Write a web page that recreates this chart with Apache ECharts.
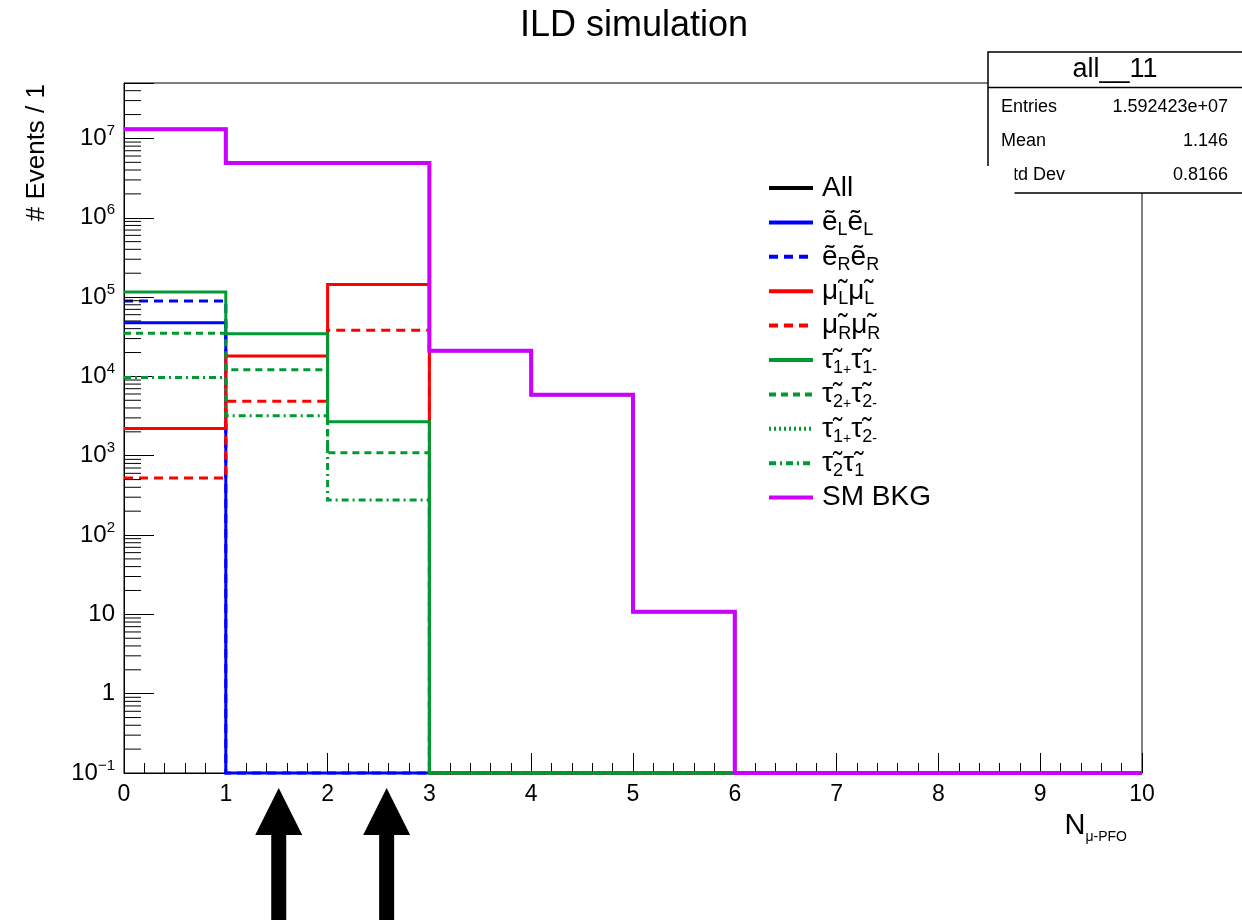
<!DOCTYPE html>
<html>
<head>
<meta charset="utf-8">
<title>ILD simulation</title>
<script src="https://cdn.jsdelivr.net/npm/echarts@6/dist/echarts.min.js"></script>
<style>
html, body { margin: 0; padding: 0; background: #fff; }
#chart { width: 1242px; height: 920px; }
</style>
</head>
<body>
<div id="chart"></div>
<script>
const FONT = 'Liberation Sans, Arial, Helvetica, sans-serif';

// one bin per integer of N_mu-PFO
const binEdges = [0, 1, 2, 3, 4, 5, 6, 7, 8, 9, 10];

// events per bin (0 = empty bin)
const allEvents = [1.31e7, 4.89e6, 4.89e6, 2.11e4, 5.87e3, 10.8, 0, 0, 0, 0];
const eLeL      = [4.76e4, 0, 0, 0, 0, 0, 0, 0, 0, 0];
const eReR      = [8.95e4, 0, 0, 0, 0, 0, 0, 0, 0, 0];
const muLmuL    = [2.2e3, 1.81e4, 1.44e5, 0, 0, 0, 0, 0, 0, 0];
const muRmuR    = [525, 4.87e3, 3.83e4, 0, 0, 0, 0, 0, 0, 0];
const tau1tau1  = [1.16e5, 3.44e4, 2.69e3, 0, 0, 0, 0, 0, 0, 0];
const tau2tau2  = [3.51e4, 1.21e4, 1.09e3, 0, 0, 0, 0, 0, 0, 0];
const tau1tau2  = [0, 0, 0, 0, 0, 0, 0, 0, 0, 0];
const tau2tau1  = [9.67e3, 3.18e3, 277, 0, 0, 0, 0, 0, 0, 0];
const smBkg     = [1.31e7, 4.89e6, 4.89e6, 2.11e4, 5.87e3, 10.8, 0, 0, 0, 0];

const yMin = 0.1;
const yMax = 5e7;

// cut positions marked by the arrows under the axis
const arrowX = [1.52, 2.58];

const statsTitle = 'all__11';
const statsLabels = ['Entries', 'Mean', 'Std Dev'];
const statsValues = ['1.592423e+07', '1.146', '0.8166'];

const histos = [
    { name: 'All', data: allEvents, color: '#000000', dash: 'solid', width: 3, label: 'All' },
    { name: 'eLeL', data: eLeL, color: '#0000ff', dash: 'solid', width: 3, label: 'ẽ{s|L}ẽ{s|L}' },
    { name: 'eReR', data: eReR, color: '#0000ff', dash: [9, 6], width: 3, label: 'ẽ{s|R}ẽ{s|R}' },
    { name: 'muLmuL', data: muLmuL, color: '#ff0000', dash: 'solid', width: 3, label: 'μ̃{s|L}μ̃{s|L}' },
    { name: 'muRmuR', data: muRmuR, color: '#ff0000', dash: [9, 6], width: 3, label: 'μ̃{s|R}μ̃{s|R}' },
    { name: 'tau1tau1', data: tau1tau1, color: '#009933', dash: 'solid', width: 3, label: 'τ̃{s|1}{ss|+}τ̃{s|1}{ss|-}' },
    { name: 'tau2tau2', data: tau2tau2, color: '#009933', dash: [7, 5], width: 3, label: 'τ̃{s|2}{ss|+}τ̃{s|2}{ss|-}' },
    { name: 'tau1tau2', data: tau1tau2, color: '#009933', dash: [2, 3], width: 3, label: 'τ̃{s|1}{ss|+}τ̃{s|2}{ss|-}' },
    { name: 'tau2tau1', data: tau2tau1, color: '#009933', dash: [7, 4, 2, 4], width: 3, label: 'τ̃{s|2}τ̃{s|1}' },
    { name: 'SM BKG', data: smBkg, color: '#cc00ff', dash: 'solid', width: 4, label: 'SM BKG' }
];

// step outline of a histogram, empty bins sit on the axis minimum
function histLine(vals) {
    if (vals.every(v => v === 0)) return [];
    const n = vals.length;
    const pts = [];
    vals.forEach((v, i) => pts.push([binEdges[i], v > 0 ? v : yMin]));
    pts.push([binEdges[n], vals[n - 1] > 0 ? vals[n - 1] : yMin]);
    pts.push([binEdges[n], yMin]);
    return pts;
}

// log minor ticks 2..9 x 10^n
const minorTicks = [];
for (let e = -1; e <= 7; e++) {
    for (let k = 2; k <= 9; k++) {
        const v = k * Math.pow(10, e);
        if (v < yMax) minorTicks.push([0, v]);
    }
}

const labelOf = {};
histos.forEach(h => { labelOf[h.name] = h.label; });

const series = histos.map(h => ({
    name: h.name,
    type: 'line',
    step: 'end',
    symbol: 'none',
    clip: false,
    data: histLine(h.data),
    lineStyle: { color: h.color, width: h.width, type: h.dash, join: 'miter', cap: 'butt' },
    itemStyle: { color: h.color },
    silent: true,
    animation: false
}));

series.push({
    type: 'custom',
    data: minorTicks,
    silent: true,
    animation: false,
    z: 5,
    renderItem: function (params, api) {
        const p = api.coord([0, api.value(1)]);
        return {
            type: 'line',
            shape: { x1: p[0], y1: p[1], x2: p[0] + 17, y2: p[1] },
            style: { stroke: '#000', lineWidth: 1 }
        };
    }
});

const graphics = [
    { id: 'title', type: 'text', x: 634, y: 26, style: { text: 'ILD simulation', font: '36px ' + FONT, fill: '#000', align: 'center', verticalAlign: 'middle' } },
    { id: 'ytitle', type: 'text', x: 37, y: 84, rotation: Math.PI / 2, style: { text: '# Events / 1', font: '26px ' + FONT, fill: '#000', align: 'right', verticalAlign: 'middle' } },
    { id: 'xtitle', type: 'text', x: 1127, y: 826, style: {
        text: 'N{sub|μ-PFO}', fill: '#000', align: 'right', verticalAlign: 'middle',
        fontFamily: FONT, fontSize: 29, lineHeight: 36,
        rich: { sub: { fontFamily: FONT, fontSize: 14, lineHeight: 14, verticalAlign: 'bottom' } }
    } },
    // stats box
    { id: 'statsBg', type: 'rect', z: 10, shape: { x: 988, y: 52, width: 270, height: 141 }, style: { fill: '#fff', stroke: '#000', lineWidth: 1.5 } },
    { id: 'statsSep', type: 'line', z: 10, shape: { x1: 988, y1: 87.5, x2: 1258, y2: 87.5 }, style: { stroke: '#000', lineWidth: 1.5 } },
    { id: 'statsTitle', type: 'text', z: 10, x: 1115, y: 70, style: { text: statsTitle, font: '27px ' + FONT, fill: '#000', align: 'center', verticalAlign: 'middle' } }
];
statsLabels.forEach((lab, i) => {
    const y = 107 + i * 34;
    graphics.push({ id: 'statsLab' + i, type: 'text', z: 10, x: 1001, y: y, style: { text: lab, font: '18px ' + FONT, fill: '#000', align: 'left', verticalAlign: 'middle' } });
    graphics.push({ id: 'statsVal' + i, type: 'text', z: 10, x: 1228, y: y, style: { text: statsValues[i], font: '18px ' + FONT, fill: '#000', align: 'right', verticalAlign: 'middle' } });
});
// legend pad hides the lower left corner of the stats box
graphics.push({ id: 'legendPad', type: 'rect', z: 11, shape: { x: 960, y: 166, width: 54.5, height: 42 }, style: { fill: '#fff' } });

const chart = echarts.init(document.getElementById('chart'));
chart.setOption({
    backgroundColor: '#fff',
    animation: false,
    grid: { left: 124, right: 100, top: 83, bottom: 147, show: true, borderColor: '#000', borderWidth: 1, backgroundColor: 'transparent' },
    xAxis: {
        type: 'value',
        min: 0,
        max: 10,
        interval: 1,
        axisLine: { lineStyle: { color: '#000', width: 1 } },
        axisTick: { inside: true, length: 20, lineStyle: { color: '#000' } },
        minorTick: { show: true, splitNumber: 5, length: 10, lineStyle: { color: '#000' } },
        splitLine: { show: false },
        axisLabel: { color: '#000', fontFamily: FONT, fontSize: 23, margin: 10 }
    },
    yAxis: {
        type: 'log',
        logBase: 10,
        min: yMin,
        max: yMax,
        axisLine: { lineStyle: { color: '#000', width: 1 } },
        axisTick: { inside: true, length: 30, lineStyle: { color: '#000' } },
        splitLine: { show: false },
        axisLabel: {
            color: '#000', fontFamily: FONT, fontSize: 24, lineHeight: 30, margin: 9,
            formatter: function (v) {
                const e = Math.round(Math.log10(v));
                if (Math.abs(v - Math.pow(10, e)) > 1e-6 * v) return '';
                if (e === 0) return '1';
                if (e === 1) return '10';
                return '10{sup|' + (e < 0 ? '\u2212' + (-e) : e) + '}';
            },
            rich: { sup: { fontFamily: FONT, fontSize: 15, lineHeight: 15, verticalAlign: 'top', color: '#000' } }
        }
    },
    legend: {
        orient: 'vertical',
        left: 767,
        top: 171,
        padding: 0,
        itemWidth: 44,
        itemHeight: 14,
        itemGap: 0.4,
        selectedMode: false,
        z: 20,
        data: histos.map(h => h.name),
        itemStyle: { opacity: 0 },
        lineStyle: { width: 4 },
        formatter: n => labelOf[n],
        textStyle: {
            color: '#000', fontFamily: FONT, fontSize: 28, lineHeight: 34, padding: [0, 0, 0, 4],
            rich: {
                s: { fontFamily: FONT, fontSize: 18, lineHeight: 18, verticalAlign: 'bottom', color: '#000' },
                ss: { fontFamily: FONT, fontSize: 14, lineHeight: 14, verticalAlign: 'bottom', color: '#000' }
            }
        }
    },
    graphic: graphics,
    series: series
});

// arrows under the x axis, placed through the axis scale
const arrows = arrowX.map((x, i) => {
    const px = chart.convertToPixel({ gridIndex: 0 }, [x, yMin])[0];
    return {
        id: 'arrow' + i,
        type: 'polygon',
        shape: { points: [[px, 788], [px + 23.5, 835], [px + 7.5, 835], [px + 7.5, 920], [px - 7.5, 920], [px - 7.5, 835], [px - 23.5, 835]] },
        style: { fill: '#000' }
    };
});
chart.setOption({ graphic: arrows });
</script>
</body>
</html>
